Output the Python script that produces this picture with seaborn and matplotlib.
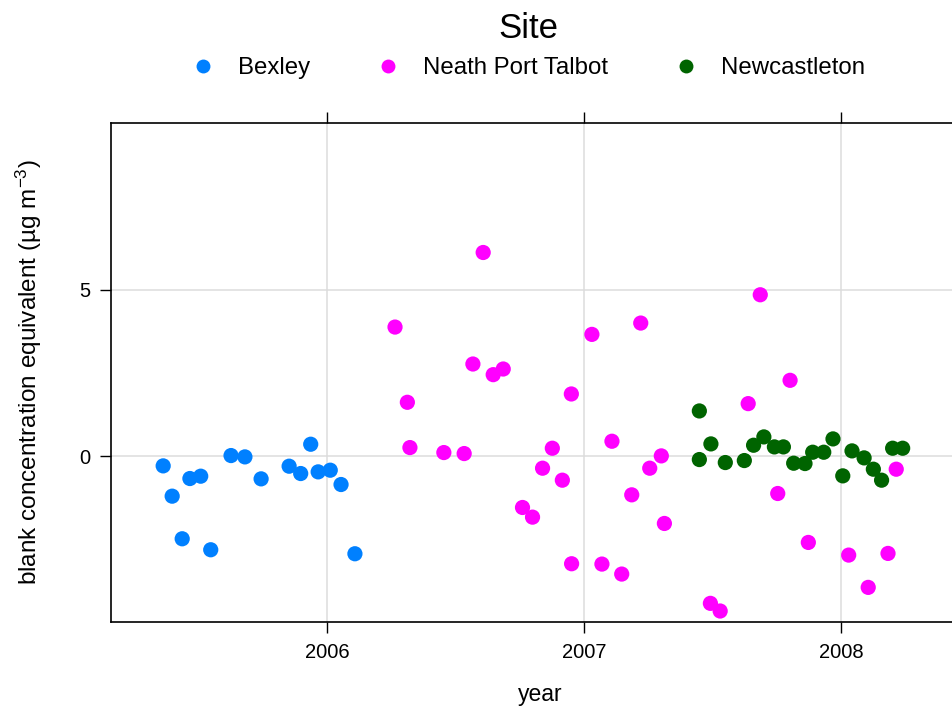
import numpy as np
import pandas as pd
import matplotlib
matplotlib.use("Agg")
import matplotlib.pyplot as plt
from matplotlib.lines import Line2D
import seaborn as sns

# ---- data (decimal year, blank concentration equivalent) ----
bexley_year = [2005.361, 2005.396, 2005.435, 2005.465, 2005.507, 2005.546, 2005.625, 2005.679,
               2005.742, 2005.851, 2005.896, 2005.935, 2005.964, 2006.011, 2006.053, 2006.107]
bexley_val = [-0.29, -1.20, -2.48, -0.67, -0.60, -2.81, 0.02, -0.02,
              -0.68, -0.30, -0.52, 0.36, -0.47, -0.42, -0.85, -2.93]

npt_year = [2006.263, 2006.311, 2006.321, 2006.453, 2006.532, 2006.566, 2006.606, 2006.645,
            2006.684, 2006.759, 2006.798, 2006.837, 2006.875, 2006.914, 2006.949, 2006.950,
            2007.029, 2007.068, 2007.107, 2007.145, 2007.184, 2007.219, 2007.254, 2007.299,
            2007.311, 2007.490, 2007.528, 2007.637, 2007.684, 2007.752, 2007.800, 2007.871,
            2008.028, 2008.104, 2008.181, 2008.213]
npt_val = [3.88, 1.62, 0.26, 0.11, 0.08, 2.77, 6.12, 2.45,
           2.62, -1.54, -1.83, -0.36, 0.24, -0.72, 1.87, -3.23,
           3.66, -3.24, 0.45, -3.54, -1.16, 4.00, -0.36, 0.01,
           -2.02, -4.42, -4.65, 1.58, 4.85, -1.12, 2.28, -2.59,
           -2.97, -3.94, -2.92, -0.39]

newc_year = [2007.447, 2007.447, 2007.492, 2007.548, 2007.622, 2007.658, 2007.698, 2007.739,
             2007.774, 2007.814, 2007.858, 2007.888, 2007.931, 2007.967, 2008.005, 2008.041,
             2008.088, 2008.124, 2008.156, 2008.199, 2008.238]
newc_val = [1.36, -0.10, 0.37, -0.19, -0.13, 0.33, 0.58, 0.28,
            0.28, -0.21, -0.22, 0.12, 0.12, 0.52, -0.59, 0.16,
            -0.05, -0.39, -0.72, 0.24, 0.24]

sites = ["Bexley", "Neath Port Talbot", "Newcastleton"]
colors = ["#0080FF", "#FF00FF", "#006400"]
year_ticks = [2006, 2007, 2008]
y_ticks = [0, 5]

df = pd.concat([
    pd.DataFrame({"year": bexley_year, "value": bexley_val, "site": sites[0]}),
    pd.DataFrame({"year": npt_year, "value": npt_val, "site": sites[1]}),
    pd.DataFrame({"year": newc_year, "value": newc_val, "site": sites[2]}),
], ignore_index=True)

sns.set_theme(style="white")
plt.rcParams["font.family"] = ["Liberation Sans", "DejaVu Sans"]
plt.rcParams["mathtext.fontset"] = "custom"
plt.rcParams["mathtext.rm"] = "Liberation Sans"
plt.rcParams["mathtext.it"] = "Liberation Sans:italic"
plt.rcParams["mathtext.default"] = "regular"
plt.rcParams["text.color"] = "black"
plt.rcParams["axes.labelcolor"] = "black"

W, H = 952, 706
fig = plt.figure(figsize=(W / 100, H / 100), dpi=100)
left_px, right_px, top_px, bottom_px = 111, 970, 123, 622
ax = fig.add_axes([left_px / W, (H - bottom_px) / H, (right_px - left_px) / W, (bottom_px - top_px) / H])

palette = dict(zip(sites, colors))
sns.scatterplot(data=df, x="year", y="value", hue="site", palette=palette,
                s=120, edgecolor="none", linewidth=0, legend=False, ax=ax, zorder=3)

ax.set_xlim(2005.158, 2008.5)
ax.set_ylim(-4.98, 10.01)
ax.set_xticks(year_ticks)
ax.set_xticklabels([str(y) for y in year_ticks])
ax.set_yticks(y_ticks)
ax.set_yticklabels([str(v) for v in y_ticks])

ax.grid(True, color="#dcdcdc", linewidth=1.1, zorder=0)
ax.set_axisbelow(True)
for sp in ax.spines.values():
    sp.set_color("black")
    sp.set_linewidth(1.2)

ax.tick_params(axis="both", which="both", direction="out", length=8, width=1.0,
               color="black", labelsize=14.5, pad=7, labelcolor="black")
ax.tick_params(axis="x", top=True, labeltop=False, bottom=True)
ax.tick_params(axis="y", left=True, right=False)

ax.set_xlabel("year", fontsize=16.5, labelpad=15, color="black")
ax.set_ylabel("blank concentration equivalent (µg m$^{-3}$)", fontsize=17.5,
              labelpad=25, color="black")

handles = [Line2D([0], [0], marker="o", linestyle="none", markersize=10,
                  markerfacecolor=c, markeredgecolor="none") for c in colors]
leg = fig.legend(handles, sites, loc="upper center", bbox_to_anchor=(528 / W, 0.996),
                 ncol=3, frameon=False, fontsize=17.3, title="Site",
                 title_fontsize=25, handlelength=1.0, handletextpad=0.95,
                 columnspacing=2.75, borderaxespad=0)
for t in leg.get_texts():
    t.set_color("black")
leg.get_title().set_color("black")

fig.savefig("out.png", dpi=100)
